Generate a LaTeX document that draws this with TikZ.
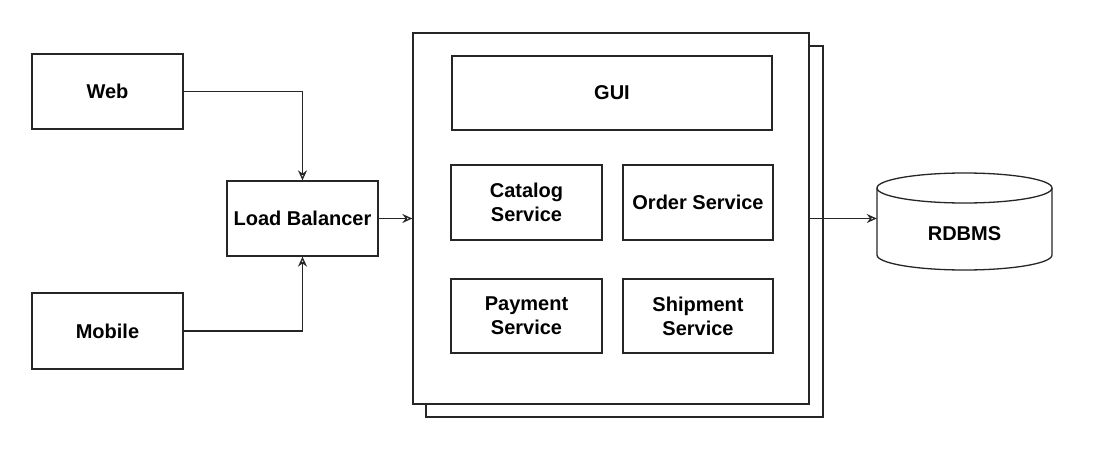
\documentclass[tikz,border=0pt]{standalone}
\usepackage{fontspec}
\setmainfont{Liberation Sans}
\usetikzlibrary{arrows.meta}
\begin{document}
\begin{tikzpicture}[x=1pt,y=-1pt,
  frame/.style={draw=black!85, line width=1.3pt},
  box/.style={frame, fill=white, inner sep=0pt, align=center,
    font=\bfseries\fontsize{20}{24}\selectfont},
  conn/.style={draw=black!85, line width=1.3pt, -{Stealth[open, length=10pt, width=9pt]}}]
\useasboundingbox (0,0) rectangle (1103,452);
% left side
\node[box, minimum width=151pt, minimum height=75pt] (web) at (107.5,91.5) {Web};
\node[box, minimum width=151pt, minimum height=76pt] (mobile) at (107.5,331) {Mobile};
\node[box, minimum width=151pt, minimum height=75pt] (lb) at (302.5,218.5) {Load Balancer};
% application container (stacked)
\draw[frame, fill=white] (426,46) rectangle (823,417);
\node[box, minimum width=396pt, minimum height=371pt] (app) at (611,218.5) {};
\node[box, minimum width=320pt, minimum height=74pt] (gui) at (612,93) {GUI};
\node[box, minimum width=151pt, minimum height=75pt] (catalog) at (526.5,202.5) {Catalog\\Service};
\node[box, minimum width=150pt, minimum height=75pt] (order) at (698,202.5) {Order Service};
\node[box, minimum width=151pt, minimum height=74pt] (payment) at (526.5,316) {Payment\\Service};
\node[box, minimum width=150pt, minimum height=74pt] (shipment) at (698,316) {Shipment\\Service};
% database
\node[minimum width=175pt, minimum height=97pt, inner sep=0pt] (db) at (964.5,221.5) {};
\draw[frame, fill=white] (877,188) -- (877,255)
  arc[start angle=180, end angle=0, x radius=87.5, y radius=15] -- (1052,188)
  arc[start angle=0, end angle=-180, x radius=87.5, y radius=15] -- cycle;
\draw[frame] (877,188) arc[start angle=180, end angle=0, x radius=87.5, y radius=15];
\node[font=\bfseries\fontsize{20}{24}\selectfont] (dblabel) at (964.5,234) {RDBMS};
% connectors
\draw[conn] (web.east) -| (lb.north);
\draw[conn] (mobile.east) -| (lb.south);
\draw[conn] (lb.east) -- (app.west);
\draw[conn] (app.east) -- (app.east -| db.west);
\end{tikzpicture}
\end{document}
